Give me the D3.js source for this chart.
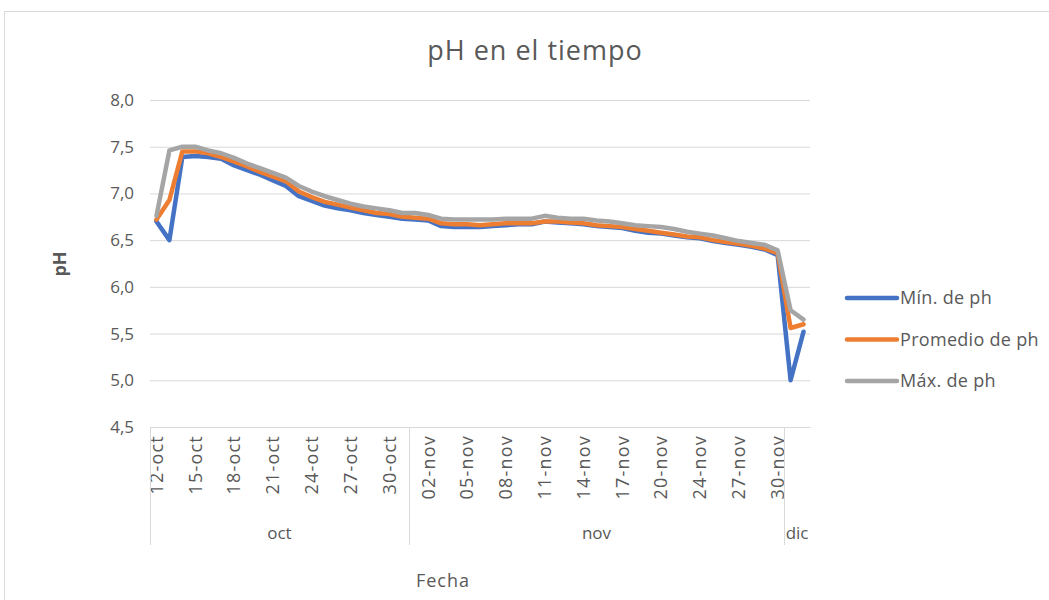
<!DOCTYPE html>
<html>
<head>
<meta charset="utf-8">
<script src="https://cdn.jsdelivr.net/npm/d3@7"></script>
<style>
  body { margin: 0; background: #fff; }
  text { font-family: "Open Sans", sans-serif; }
</style>
</head>
<body>
<svg id="chart" width="1049" height="600"></svg>
<script>
// Fechas de muestreo (día-mes), agrupadas por mes
const dates = [
  "12-oct","13-oct","14-oct","15-oct","16-oct","17-oct","18-oct","19-oct","20-oct","21-oct",
  "22-oct","23-oct","24-oct","25-oct","26-oct","27-oct","28-oct","29-oct","30-oct","31-oct",
  "01-nov","02-nov","03-nov","04-nov","05-nov","06-nov","07-nov","08-nov","09-nov","10-nov",
  "11-nov","12-nov","13-nov","14-nov","15-nov","16-nov","17-nov","18-nov","19-nov","20-nov",
  "21-nov","23-nov","24-nov","25-nov","26-nov","27-nov","28-nov","29-nov","30-nov",
  "01-dic","02-dic"
];
const months = ["oct", "nov", "dic"];

const minPh = [
  6.70,6.50,7.39,7.40,7.39,7.37,7.30,7.25,7.20,7.14,
  7.08,6.97,6.92,6.87,6.84,6.82,6.79,6.77,6.75,6.73,
  6.72,6.71,6.65,6.64,6.64,6.64,6.65,6.66,6.67,6.67,
  6.70,6.69,6.68,6.67,6.65,6.64,6.63,6.60,6.58,6.57,
  6.55,6.53,6.52,6.49,6.47,6.45,6.43,6.40,6.34,
  5.00,5.52
];
const avgPh = [
  6.72,6.93,7.45,7.45,7.43,7.39,7.34,7.29,7.23,7.18,
  7.13,7.02,6.96,6.91,6.88,6.85,6.82,6.79,6.78,6.75,
  6.74,6.73,6.68,6.67,6.67,6.66,6.67,6.68,6.68,6.68,
  6.70,6.70,6.69,6.68,6.66,6.65,6.64,6.62,6.60,6.58,
  6.56,6.54,6.53,6.50,6.48,6.46,6.44,6.41,6.36,
  5.56,5.60
];
const maxPh = [
  6.76,7.46,7.50,7.50,7.46,7.43,7.38,7.32,7.27,7.22,
  7.17,7.08,7.02,6.97,6.93,6.89,6.86,6.84,6.82,6.79,
  6.79,6.77,6.73,6.72,6.72,6.72,6.72,6.73,6.73,6.73,
  6.76,6.74,6.73,6.73,6.71,6.70,6.68,6.66,6.65,6.64,
  6.62,6.59,6.57,6.55,6.52,6.49,6.47,6.45,6.39,
  5.75,5.65
];
const yTicks = [4.5, 5.0, 5.5, 6.0, 6.5, 7.0, 7.5, 8.0];
const seriesNames = ["Mín. de ph", "Promedio de ph", "Máx. de ph"];
const seriesColors = ["#4472C4", "#ED7D31", "#A5A5A5"];
const tickStep = 3;

const svg = d3.select("#chart");
const plot = { left: 150, right: 810, top: 100, bottom: 427 };
const gridColor = "#d9d9d9";
const textColor = "#595959";

// chart frame
svg.append("rect")
  .attr("x", 4.5).attr("y", 11.5)
  .attr("width", 1100).attr("height", 700)
  .attr("fill", "#fff").attr("stroke", gridColor);

const x = d3.scaleBand().domain(d3.range(dates.length))
  .range([plot.left, plot.right]).padding(0);
const xc = i => x(i) + x.bandwidth() / 2;
const y = d3.scaleLinear().domain([4.5, 8.0]).range([plot.bottom, plot.top]);

const locale = d3.formatLocale({ decimal: ",", thousands: ".", grouping: [3], currency: ["", "€"] });
const fmt = locale.format(".1f");

// title
svg.append("text")
  .attr("x", 535).attr("y", 60)
  .attr("text-anchor", "middle")
  .attr("font-size", 27).attr("letter-spacing", 1).attr("fill", textColor)
  .text("pH en el tiempo");

// horizontal gridlines + y axis labels
const yAxis = d3.axisLeft(y).tickValues(yTicks).tickFormat(fmt)
  .tickSize(-(plot.right - plot.left)).tickPadding(16);
const gy = svg.append("g").attr("transform", `translate(${plot.left},0)`).call(yAxis);
gy.select(".domain").remove();
gy.selectAll(".tick line").attr("stroke", gridColor).attr("stroke-width", 1);
gy.selectAll(".tick text").attr("fill", textColor).attr("font-size", 17)
  .attr("font-family", "Open Sans, sans-serif");

// y axis title
svg.append("text")
  .attr("transform", "translate(66,264) rotate(-90)")
  .attr("text-anchor", "middle")
  .attr("font-size", 18).attr("font-weight", "bold").attr("fill", textColor)
  .text("pH");

// x axis: date labels every third category, rotated
const xAxis = d3.axisBottom(x)
  .tickValues(d3.range(0, dates.length, tickStep).filter(i => months.indexOf(dates[i].slice(3)) < 2))
  .tickFormat(i => dates[i]).tickSize(0).tickPadding(0);
const gx = svg.append("g").attr("transform", `translate(0,${plot.bottom})`).call(xAxis);
gx.select(".domain").attr("stroke", gridColor);
gx.selectAll(".tick text")
  .attr("transform", "translate(0,8) rotate(-90)")
  .attr("text-anchor", "end")
  .attr("x", 0).attr("y", 0).attr("dy", "0.35em")
  .attr("fill", textColor).attr("font-size", 18).attr("letter-spacing", 1.2)
  .attr("font-family", "Open Sans, sans-serif");

// month groups: separators and labels
const groupBottom = 545;
const monthStarts = months.map(m => dates.findIndex(d => d.slice(3) === m));
const monthEnds = months.map((m, k) => (k + 1 < months.length ? monthStarts[k + 1] : dates.length));
svg.append("line")
  .attr("x1", plot.left + 0.5).attr("x2", plot.left + 0.5)
  .attr("y1", plot.bottom).attr("y2", groupBottom)
  .attr("stroke", gridColor);
months.forEach((m, k) => {
  if (k > 0) {
    const xs = Math.round(x(monthStarts[k])) + 0.5;
    svg.append("line")
      .attr("x1", xs).attr("x2", xs)
      .attr("y1", plot.bottom).attr("y2", groupBottom)
      .attr("stroke", gridColor);
  }
  const xEnd = monthEnds[k] < dates.length ? x(monthEnds[k]) : plot.right;
  svg.append("text")
    .attr("x", (x(monthStarts[k]) + xEnd) / 2).attr("y", 539)
    .attr("text-anchor", "middle")
    .attr("font-size", 17).attr("fill", textColor)
    .text(m);
});

// x axis title
svg.append("text")
  .attr("x", 443).attr("y", 587)
  .attr("text-anchor", "middle")
  .attr("font-size", 18).attr("letter-spacing", 1).attr("fill", textColor)
  .text("Fecha");

// series lines
const line = d3.line().x((d, i) => xc(i)).y(d => y(d));
[minPh, avgPh, maxPh].forEach((vals, k) => {
  svg.append("path")
    .datum(vals)
    .attr("d", line)
    .attr("fill", "none")
    .attr("stroke", seriesColors[k])
    .attr("stroke-width", 4.5)
    .attr("stroke-linejoin", "round")
    .attr("stroke-linecap", "round");
});

// legend
const legend = svg.append("g");
seriesNames.forEach((name, k) => {
  const ly = 298 + k * 41.5;
  legend.append("line")
    .attr("x1", 847).attr("x2", 897)
    .attr("y1", ly).attr("y2", ly)
    .attr("stroke", seriesColors[k]).attr("stroke-width", 4.5)
    .attr("stroke-linecap", "round");
  legend.append("text")
    .attr("x", 900).attr("y", ly).attr("dy", "0.35em")
    .attr("font-size", 18).attr("letter-spacing", 0.3).attr("fill", textColor)
    .text(name);
});
</script>
</body>
</html>
